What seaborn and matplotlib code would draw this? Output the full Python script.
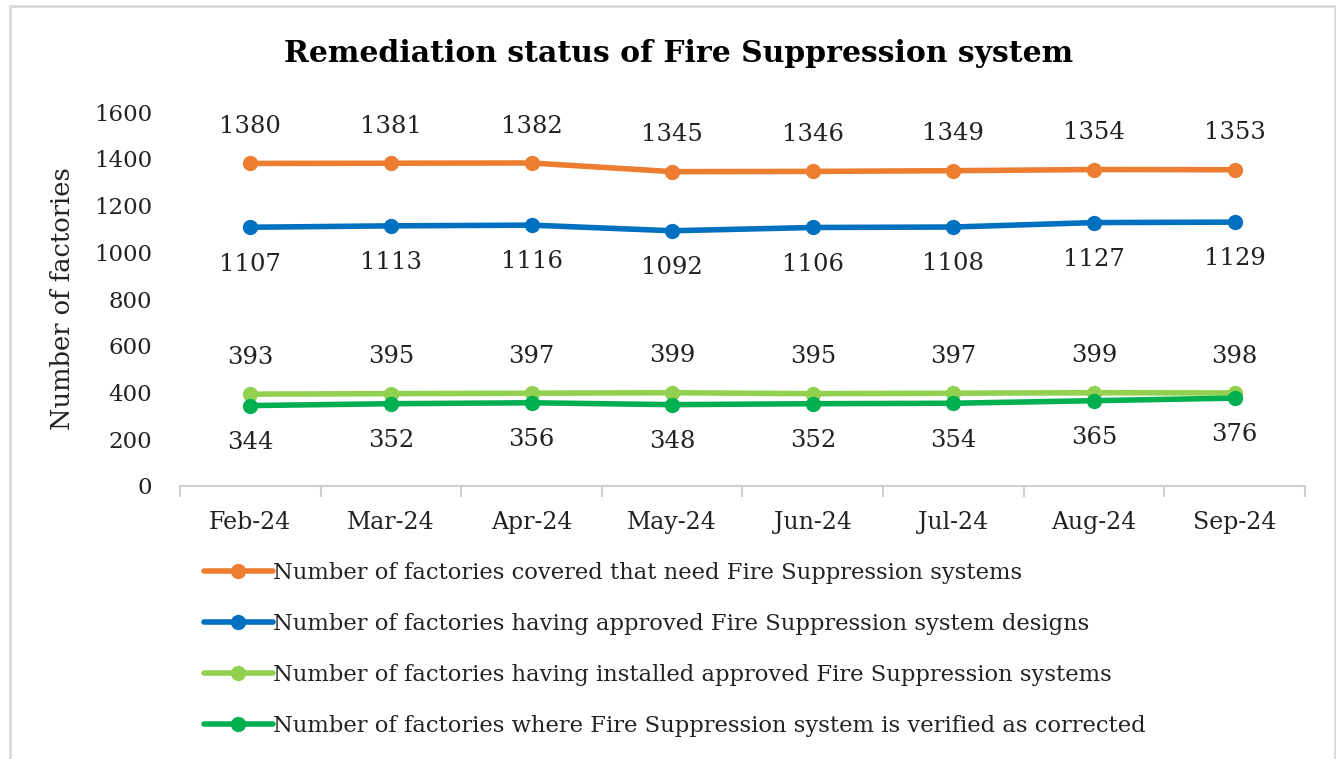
import seaborn as sns
import pandas as pd
import matplotlib.pyplot as plt
from matplotlib.patches import Rectangle

months = ['Feb-24', 'Mar-24', 'Apr-24', 'May-24', 'Jun-24', 'Jul-24', 'Aug-24', 'Sep-24']
series_names = [
    'Number of factories covered that need Fire Suppression systems',
    'Number of factories having approved Fire Suppression system designs',
    'Number of factories having installed approved Fire Suppression systems',
    'Number of factories where Fire Suppression system is verified as corrected',
]
covered = [1380, 1381, 1382, 1345, 1346, 1349, 1354, 1353]
approved = [1107, 1113, 1116, 1092, 1106, 1108, 1127, 1129]
installed = [393, 395, 397, 399, 395, 397, 399, 398]
verified = [344, 352, 356, 348, 352, 354, 365, 376]
colors = ['#ED7D31', '#0070C0', '#92D050', '#00B050']
label_side = [1, -1, 1, -1]  # above / below the line

rows = []
for name, vals in zip(series_names, [covered, approved, installed, verified]):
    for i, (m, v) in enumerate(zip(months, vals)):
        rows.append({'Month': m, 'idx': i, 'Series': name, 'Value': v})
data = pd.DataFrame(rows)

sns.set_style('white')
plt.rcParams['font.family'] = ['DejaVu Serif']

fig = plt.figure(figsize=(13.36, 7.59), dpi=100)
ax = fig.add_axes([0.1347, 0.3597, 0.8421, 0.4927])

sns.lineplot(data=data, x='idx', y='Value', hue='Series', palette=colors,
             marker='o', markersize=11, markeredgewidth=0, linewidth=4,
             ax=ax, legend=True)

for name, col, side in zip(series_names, colors, label_side):
    sub = data[data['Series'] == name]
    for x, v in zip(sub['idx'], sub['Value']):
        ax.annotate(str(v), (x, v), xytext=(0, 26.5 * side), textcoords='offset points',
                    ha='center', va='center', fontsize=17.5, color='#222222')

ax.set_xlim(-0.5, 7.5)
ax.set_ylim(0, 1600)
ax.set_yticks(range(0, 1601, 200))
ax.set_xticks(range(len(months)))
ax.set_xticklabels(months)
ax.tick_params(axis='y', labelsize=16.5, length=0, pad=20, colors='#222222')
ax.tick_params(axis='x', labelsize=17, length=0, pad=18, colors='#222222')
ax.set_xticks([i - 0.5 for i in range(len(months) + 1)], minor=True)
ax.tick_params(axis='x', which='minor', bottom=True, length=8, width=1.5,
               color='#D0D0D0', direction='out')
ax.set_xlabel('')
ax.set_ylabel('Number of factories', fontsize=18.5, color='#222222', labelpad=14)
for s in ['top', 'right', 'left']:
    ax.spines[s].set_visible(False)
ax.spines['bottom'].set_color('#D0D0D0')
ax.spines['bottom'].set_linewidth(1.5)

fig.text(0.508, 0.93, 'Remediation status of Fire Suppression system', ha='center',
         va='center', fontsize=21.5, fontweight='bold', color='black')

handles, labels = ax.get_legend_handles_labels()
leg = ax.legend(handles, labels, loc='upper left', bbox_to_anchor=(0.013, -0.18),
                frameon=False, fontsize=16.3, handlelength=3.05, handletextpad=0.0,
                labelspacing=1.27, borderaxespad=0)
for t in leg.get_texts():
    t.set_color('#222222')

fig.patches.append(Rectangle((10 / 1336, -0.01), 1325 / 1336, 1.01 - 6 / 759,
                             transform=fig.transFigure, fill=False,
                             edgecolor='#D9D9D9', linewidth=2))

plt.savefig('out.png', dpi=100)
